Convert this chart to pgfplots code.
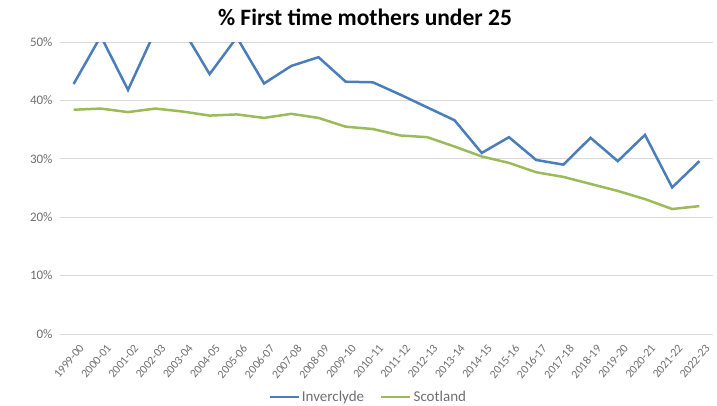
\documentclass[border=0pt]{standalone}
\usepackage{pgfplots}
\pgfplotsset{compat=1.18}
\usepackage{fontspec}
\setmainfont{Carlito}
\definecolor{invblue}{HTML}{4A7EBB}
\definecolor{scogreen}{HTML}{9BBB59}
\definecolor{gridgray}{HTML}{D9D9D9}
\definecolor{labgray}{HTML}{6F6F6F}
\begin{document}
\begin{tikzpicture}
\path[use as bounding box] (-60bp,-72bp) rectangle (657bp,334bp);
\begin{axis}[
  scale only axis,
  width=653bp, height=292bp,
  xmin=-0.5, xmax=23.5,
  ymin=0, ymax=50,
  xtick={0,...,23},
  xticklabels={1999-00,2000-01,2001-02,2002-03,2003-04,2004-05,2005-06,2006-07,2007-08,2008-09,2009-10,2010-11,2011-12,2012-13,2013-14,2014-15,2015-16,2016-17,2017-18,2018-19,2019-20,2020-21,2021-22,2022-23},
  ytick={0,10,20,30,40,50},
  yticklabels={0\%,10\%,20\%,30\%,40\%,50\%},
  ymajorgrids,
  grid style={gridgray, line width=0.8bp},
  axis line style={draw=none},
  major tick length=0pt,
  tick label style={text=labgray},
  yticklabel style={xshift=-4bp, font=\fontsize{13bp}{15bp}\selectfont},
  xticklabel style={rotate=50, anchor=north east, inner sep=1bp, yshift=-9bp, xshift=-3bp, font=\fontsize{11.8bp}{14bp}\selectfont},
  legend columns=2,
  legend style={at={(0.472,-0.215)}, anchor=center, draw=none, fill=none,
    font=\fontsize{15bp}{17bp}\selectfont, text=labgray,
    /tikz/every even column/.append style={column sep=14bp}},
  legend image code/.code={\draw[#1] (0bp,0bp) -- (29bp,0bp);},
  clip=true,
]
\addplot[invblue, line width=2.5bp] coordinates {
(0,42.8) (1,51.0) (2,41.8) (3,51.9) (4,52.3) (5,44.5) (6,50.8) (7,42.9) (8,45.9) (9,47.4)
(10,43.2) (11,43.1) (12,41.0) (13,38.8) (14,36.6) (15,31.0) (16,33.7) (17,29.8) (18,29.0)
(19,33.6) (20,29.6) (21,34.1) (22,25.1) (23,29.6)};
\addlegendentry{Inverclyde}
\addplot[scogreen, line width=2.5bp] coordinates {
(0,38.4) (1,38.6) (2,38.0) (3,38.6) (4,38.1) (5,37.4) (6,37.6) (7,37.0) (8,37.7) (9,37.0)
(10,35.5) (11,35.1) (12,34.0) (13,33.7) (14,32.1) (15,30.4) (16,29.3) (17,27.7) (18,26.9)
(19,25.7) (20,24.5) (21,23.1) (22,21.4) (23,21.9)};
\addlegendentry{Scotland}
\end{axis}
\node[font=\bfseries\fontsize{23.5bp}{26bp}\selectfont] at (305bp,317bp) {\% First time mothers under 25};
\end{tikzpicture}
\end{document}
